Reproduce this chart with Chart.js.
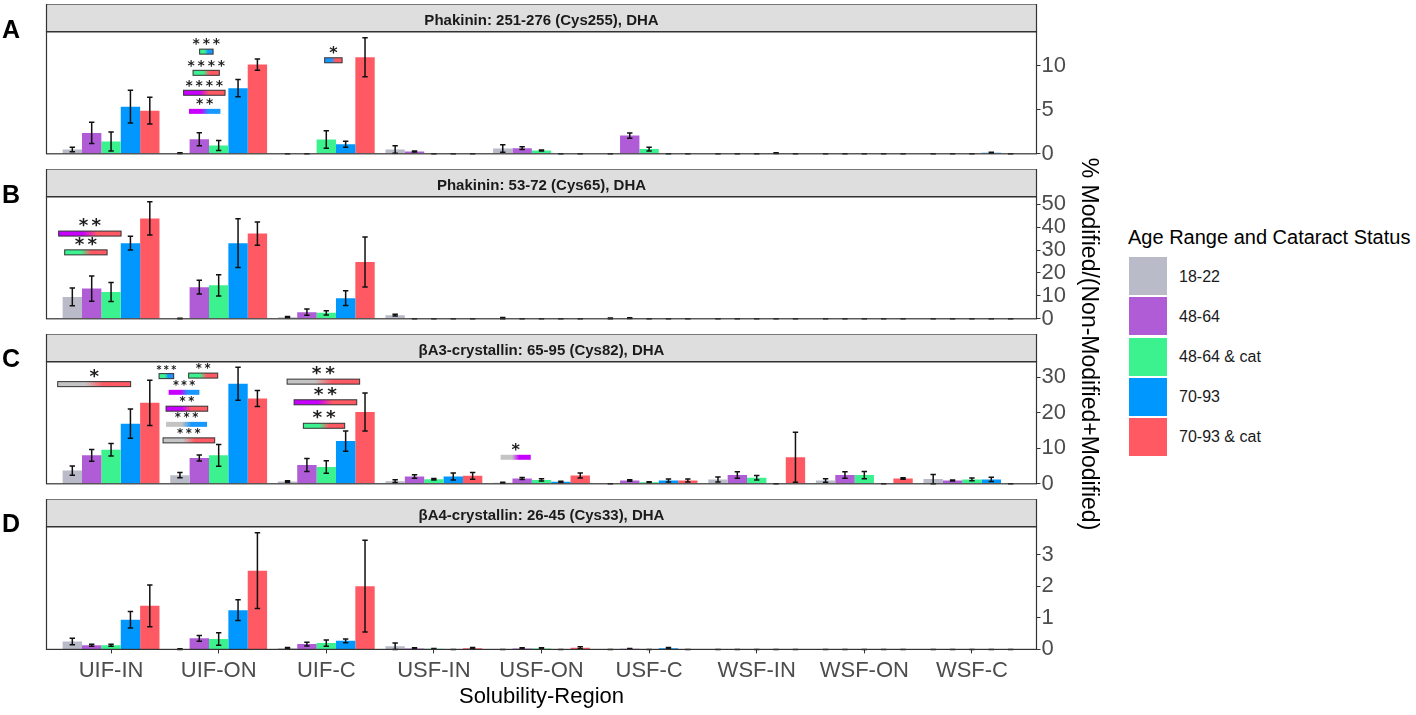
<!DOCTYPE html>
<html>
<head>
<meta charset="utf-8">
<script src="https://cdn.jsdelivr.net/npm/chart.js@4.4.1/dist/chart.umd.min.js"></script>
<style>
  body { margin: 0; background: #fff; width: 1416px; height: 715px; overflow: hidden; position: relative;
         font-family: "Liberation Sans", Arial, Helvetica, sans-serif; }
  canvas { position: absolute; left: 0; }
  .letter { position: absolute; left: 0; width: 22px; text-align: center; font-weight: bold; font-size: 25px; line-height: 25px; color: #000; }
  #ytitle { position: absolute; left: 880px; top: 331px; width: 420px; height: 26px; line-height: 26px; font-size: 23px;
            text-align: center; color: #000; transform: rotate(90deg); white-space: nowrap; }
  #legend-title { position: absolute; left: 1128px; top: 227px; font-size: 20px; line-height: 20px; color: #000; white-space: nowrap; }
  .sw { position: absolute; left: 1129px; width: 38px; height: 38px; }
  .lab { position: absolute; left: 1179px; font-size: 16px; line-height: 16px; color: #1a1a1a; white-space: nowrap; }
</style>
</head>
<body>
<canvas id="pA" width="1080" height="164" style="top:4px"></canvas>
<canvas id="pB" width="1080" height="164" style="top:169px"></canvas>
<canvas id="pC" width="1080" height="164" style="top:334px"></canvas>
<canvas id="pD" width="1080" height="216" style="top:499px"></canvas>
<div class="letter" style="top:17px">A</div>
<div class="letter" style="top:182px">B</div>
<div class="letter" style="top:346px">C</div>
<div class="letter" style="top:511px">D</div>
<div id="ytitle">% Modified/(Non-Modified+Modified)</div>
<div id="legend-title">Age Range and Cataract Status</div>
<div id="legend"></div>
<script>
// categories and groups
const categories = ['UIF-IN', 'UIF-ON', 'UIF-C', 'USF-IN', 'USF-ON', 'USF-C', 'WSF-IN', 'WSF-ON', 'WSF-C']
const groups = ['18-22', '48-64', '48-64 & cat', '70-93', '70-93 & cat']
const panelTitles = ['Phakinin: 251-276 (Cys255), DHA', 'Phakinin: 53-72 (Cys65), DHA',
  'βA3-crystallin: 65-95 (Cys82), DHA', 'βA4-crystallin: 26-45 (Cys33), DHA']

// A - phakinin Cys255 (rows = groups, cols = categories)
const phak255Mean = [
  [0.49, 0.08, 0, 0.49, 0.6, 0, 0, 0, 0],
  [2.37, 1.65, 0, 0.26, 0.64, 2.07, 0, 0, 0],
  [1.39, 0.94, 1.62, 0, 0.38, 0.53, 0, 0, 0],
  [5.34, 7.44, 1.09, 0, 0, 0, 0.08, 0, 0.12],
  [4.89, 10.11, 10.94, 0, 0, 0, 0, 0, 0]
]
const phak255Err = [
  [0.26, 0.04, 0, 0.43, 0.43, 0, 0, 0, 0],
  [1.2, 0.75, 0, 0.07, 0.15, 0.3, 0, 0, 0],
  [1.07, 0.56, 0.98, 0, 0.06, 0.2, 0, 0, 0],
  [1.86, 0.98, 0.34, 0, 0, 0, 0.04, 0, 0.05],
  [1.52, 0.64, 2.22, 0, 0, 0, 0, 0, 0]
]
// B - phakinin Cys65
const phak65Mean = [
  [9.57, 0.1, 0.72, 1.6, 0.3, 0.2, 0, 0, 0],
  [13.2, 13.8, 2.9, 0, 0, 0.3, 0, 0, 0],
  [11.7, 14.6, 2.6, 0, 0, 0, 0, 0, 0],
  [33.0, 33.0, 9.0, 0, 0, 0, 0, 0, 0],
  [43.8, 37.2, 24.8, 0, 0, 0, 0, 0, 0]
]
const phak65Err = [
  [3.85, 0.1, 0.3, 0.35, 0.3, 0.2, 0, 0, 0],
  [5.5, 3.0, 1.4, 0, 0, 0.2, 0, 0, 0],
  [4.1, 4.6, 0.9, 0, 0, 0, 0, 0, 0],
  [3.0, 10.65, 3.2, 0, 0, 0, 0, 0, 0],
  [7.25, 5.1, 10.9, 0, 0, 0, 0, 0, 0]
]
// C - bA3-crystallin Cys82
const cryA3Mean = [
  [3.71, 2.41, 0.65, 0.74, 0.3, 0, 1.23, 0.94, 1.32],
  [8.0, 7.24, 5.3, 2.04, 1.5, 0.94, 2.45, 2.45, 0.94],
  [9.56, 8.0, 4.74, 1.3, 1.1, 0.47, 1.7, 2.45, 1.23],
  [16.9, 28.1, 12.0, 2.04, 0.55, 0.94, 0, 0, 1.23],
  [22.75, 23.95, 20.15, 2.23, 2.35, 0.94, 7.45, 1.5, 0]
]
const cryA3Err = [
  [1.3, 0.74, 0.2, 0.4, 0.15, 0, 0.7, 0.5, 1.3],
  [1.67, 0.84, 1.81, 0.5, 0.3, 0.2, 0.9, 0.9, 0.15],
  [1.76, 3.06, 1.76, 0.2, 0.3, 0.1, 0.6, 1.0, 0.4],
  [4.13, 4.64, 2.83, 1.0, 0.15, 0.4, 0, 0, 0.6],
  [6.36, 2.27, 5.34, 0.95, 0.7, 0.4, 7.0, 0.2, 0]
]
// D - bA4-crystallin Cys33
const cryA4Mean = [
  [0.25, 0.01, 0.04, 0.1, 0, 0, 0, 0, 0],
  [0.13, 0.35, 0.17, 0.03, 0.03, 0.02, 0, 0, 0],
  [0.13, 0.33, 0.2, 0.02, 0.03, 0, 0, 0, 0],
  [0.94, 1.24, 0.27, 0, 0, 0.04, 0, 0, 0],
  [1.38, 2.49, 2.0, 0.04, 0.05, 0, 0, 0, 0]
]
const cryA4Err = [
  [0.1, 0.01, 0.02, 0.1, 0, 0, 0, 0, 0],
  [0.03, 0.09, 0.06, 0.02, 0.02, 0.01, 0, 0, 0],
  [0.03, 0.2, 0.1, 0.01, 0.02, 0, 0, 0, 0],
  [0.26, 0.33, 0.06, 0, 0, 0.02, 0, 0, 0],
  [0.66, 1.2, 1.45, 0.02, 0.03, 0, 0, 0, 0]
]

// y axis ranges and tick labels
const yMax = [13.84, 53.3, 34.3, 3.88]
const yTicksA = [0, 5, 10]
const yTicksB = [0, 10, 20, 30, 40, 50]
const yTicksC = [0, 10, 20, 30]
const yTicksD = [0, 1, 2, 3]

// significance comparisons: category, groups compared, stars, bar level (data units)
const sigA = [
  {cat: 1, from: 2, to: 3, stars: '***', y: 11.58, x0: -0.177, x1: -0.052, size: 7.5, outline: true},
  {cat: 1, from: 2, to: 4, stars: '****', y: 9.18, x0: -0.238, x1: 0.006, size: 7.5, outline: true},
  {cat: 1, from: 1, to: 4, stars: '****', y: 6.92, x0: -0.326, x1: 0.059, size: 7.5, outline: true},
  {cat: 1, from: 1, to: 3, stars: '**', y: 4.81, x0: -0.276, x1: 0.016, size: 7.5, outline: false},
  {cat: 2, from: 3, to: 4, stars: '*', y: 10.6, x0: -0.015, x1: 0.147, size: 8.5, outline: true}
]
const sigB = [
  {cat: 0, from: 1, to: 4, stars: '**', y: 37.2, x0: -0.487, x1: 0.093, size: 9.5, outline: true},
  {cat: 0, from: 2, to: 4, stars: '**', y: 29.0, x0: -0.431, x1: -0.037, size: 9.5, outline: true}
]
const sigC = [
  {cat: 0, from: 0, to: 4, stars: '*', y: 28.0, x0: -0.496, x1: 0.182, size: 9.5, outline: true},
  {cat: 1, from: 2, to: 3, stars: '***', y: 30.25, x0: -0.554, x1: -0.418, size: 5.5, outline: true},
  {cat: 1, from: 2, to: 4, stars: '**', y: 30.4, x0: -0.279, x1: -0.009, size: 6.5, outline: true},
  {cat: 1, from: 1, to: 3, stars: '***', y: 25.7, x0: -0.465, x1: -0.179, size: 6, outline: false},
  {cat: 1, from: 1, to: 4, stars: '**', y: 21.1, x0: -0.489, x1: -0.102, size: 6.5, outline: true},
  {cat: 1, from: 0, to: 3, stars: '***', y: 16.7, x0: -0.489, x1: -0.108, size: 6.5, outline: false},
  {cat: 1, from: 0, to: 4, stars: '***', y: 12.2, x0: -0.517, x1: -0.037, size: 6.5, outline: true},
  {cat: 2, from: 0, to: 4, stars: '**', y: 28.7, x0: -0.364, x1: 0.31, size: 10, outline: true},
  {cat: 2, from: 1, to: 4, stars: '**', y: 22.9, x0: -0.299, x1: 0.283, size: 10, outline: true},
  {cat: 2, from: 2, to: 4, stars: '**', y: 16.3, x0: -0.213, x1: 0.171, size: 10, outline: true},
  {cat: 4, from: 0, to: 1, stars: '*', y: 7.45, x0: -0.38, x1: -0.1, size: 8.5, outline: false}
]

const barColors = ['#b9bbc9', '#af5cd6', '#3bf28f', '#0097ff', '#ff5a64']
const sigColors = ['#c4c4c4', '#c800ff', '#3cf290', '#1898ff', '#ff5a64']
const FONT = '"Liberation Sans", Arial, Helvetica, sans-serif'
const STRIP_H = 27.7
const CAP = 2.7

Chart.defaults.font.family = FONT

// legend (html)
var legend = document.getElementById('legend')
groups.forEach((g, k) => {
  var sw = document.createElement('div')
  sw.className = 'sw'
  sw.style.top = (257.3 + k * 40.1) + 'px'
  sw.style.background = barColors[k]
  legend.appendChild(sw)
  var lab = document.createElement('div')
  lab.className = 'lab'
  lab.style.top = (257.3 + k * 40.1 + 19 - 7.8) + 'px'
  lab.textContent = g
  legend.appendChild(lab)
})

function drawStars(ctx, stars, cx, cy, size) {
  ctx.save()
  var f = size / 0.45
  ctx.font = 'bold ' + f + 'px "DejaVu Sans"'
  var m = ctx.measureText('*')
  var w = m.actualBoundingBoxLeft + m.actualBoundingBoxRight
  f = f * size / w
  ctx.font = 'bold ' + f + 'px "DejaVu Sans"'
  m = ctx.measureText('*')
  var baseY = cy + (m.actualBoundingBoxAscent - m.actualBoundingBoxDescent) / 2
  var step = size * 1.35
  ctx.fillStyle = '#1e1e1e'
  ctx.textAlign = 'center'
  ctx.textBaseline = 'alphabetic'
  for (var k = 0; k < stars.length; k++) {
    ctx.fillText(stars[k], cx + (k - (stars.length - 1) / 2) * step, baseY)
  }
  ctx.restore()
}

function makePanel(id, title, means, errs, max, ticks, sig, showX) {
  const frame = {
    id: 'frame',
    beforeDraw(chart) {
      const {ctx, chartArea: a} = chart
      ctx.save()
      ctx.fillStyle = '#dedede'
      ctx.fillRect(a.left, a.top - STRIP_H, a.right - a.left, STRIP_H)
      ctx.strokeStyle = '#333'
      ctx.lineWidth = 1.2
      ctx.strokeRect(a.left, a.top - STRIP_H, a.right - a.left, STRIP_H)
      ctx.fillStyle = '#1a1a1a'
      ctx.font = 'bold 15px ' + FONT
      ctx.textAlign = 'center'
      ctx.textBaseline = 'alphabetic'
      ctx.fillText(title, (a.left + a.right) / 2, a.top - STRIP_H / 2 + 7.4)
      ctx.restore()
    },
    afterDatasetsDraw(chart) {
      const ctx = chart.ctx, ys = chart.scales.y, xs = chart.scales.x
      ctx.save()
      // error bars
      ctx.strokeStyle = '#111'
      ctx.lineWidth = 1.5
      chart.data.datasets.forEach((ds, d) => {
        chart.getDatasetMeta(d).data.forEach((bar, i) => {
          const m = ds.data[i].y, e = ds.errors[i]
          const top = ys.getPixelForValue(m + e)
          const bot = ys.getPixelForValue(Math.max(0, m - e))
          ctx.beginPath()
          ctx.moveTo(bar.x, top); ctx.lineTo(bar.x, bot)
          ctx.moveTo(bar.x - CAP, top); ctx.lineTo(bar.x + CAP, top)
          ctx.moveTo(bar.x - CAP, bot); ctx.lineTo(bar.x + CAP, bot)
          ctx.stroke()
        })
      })
      // significance bars
      sig.forEach(mk => {
        const x0 = xs.getPixelForValue(mk.cat + mk.x0)
        const x1 = xs.getPixelForValue(mk.cat + mk.x1)
        const yc = ys.getPixelForValue(mk.y)
        const g = ctx.createLinearGradient(x0, 0, x1, 0)
        g.addColorStop(0, sigColors[mk.from])
        g.addColorStop(0.38, sigColors[mk.from])
        g.addColorStop(0.62, sigColors[mk.to])
        g.addColorStop(1, sigColors[mk.to])
        ctx.fillStyle = g
        ctx.fillRect(x0, yc - 2.5, x1 - x0, 5)
        if (mk.outline) {
          ctx.strokeStyle = '#333'
          ctx.lineWidth = 1
          ctx.strokeRect(x0, yc - 2.5, x1 - x0, 5)
        }
        drawStars(ctx, mk.stars, (x0 + x1) / 2, yc - (mk.size * 0.5 + 6), mk.size)
      })
      ctx.restore()
    },
    afterDraw(chart) {
      const {ctx, chartArea: a} = chart
      ctx.save()
      ctx.strokeStyle = '#333'
      ctx.lineWidth = 1.2
      ctx.strokeRect(a.left, a.top, a.right - a.left, a.bottom - a.top)
      ctx.restore()
    }
  }

  return new Chart(document.getElementById(id), {
    type: 'bar',
    data: {
      datasets: groups.map((g, k) => ({
        label: g,
        data: means[k].map((v, i) => ({x: i, y: v})),
        errors: errs[k],
        backgroundColor: barColors[k],
        borderWidth: 0,
        categoryPercentage: 0.9,
        barPercentage: 1.0
      }))
    },
    options: {
      responsive: false,
      animation: false,
      layout: {padding: {left: 46.5, right: 0, top: STRIP_H, bottom: showX ? 0 : 14}},
      plugins: {legend: {display: false}, tooltip: {enabled: false}},
      scales: {
        x: {
          type: 'linear', min: -0.6, max: 8.6, display: showX, offset: false,
          afterBuildTicks: s => { s.ticks = categories.map((c, i) => ({value: i})) },
          afterFit: s => { if (showX) s.height = 216 - STRIP_H - 122.7 },
          grid: {drawOnChartArea: false, drawTicks: true, tickLength: 4, color: '#333', offset: false},
          border: {display: false},
          ticks: {callback: v => categories[v], font: {size: 22}, color: '#4d4d4d', padding: 4,
                  autoSkip: false, maxRotation: 0},
          title: {display: true, text: 'Solubility-Region', font: {size: 22}, color: '#000',
                  padding: {top: 0, bottom: 5}}
        },
        y: {
          position: 'right', min: 0, max: max,
          afterBuildTicks: s => { s.ticks = ticks.map(v => ({value: v})) },
          afterFit: s => { s.width = 43.5 },
          grid: {drawOnChartArea: false, drawTicks: true, tickLength: 4, color: '#333'},
          border: {display: false},
          ticks: {font: {size: 22}, color: '#4d4d4d', padding: 1, autoSkip: false}
        }
      }
    },
    plugins: [frame]
  })
}

makePanel('pA', panelTitles[0], phak255Mean, phak255Err, yMax[0], yTicksA, sigA, false)
makePanel('pB', panelTitles[1], phak65Mean, phak65Err, yMax[1], yTicksB, sigB, false)
makePanel('pC', panelTitles[2], cryA3Mean, cryA3Err, yMax[2], yTicksC, sigC, false)
makePanel('pD', panelTitles[3], cryA4Mean, cryA4Err, yMax[3], yTicksD, [], true)
</script>
</body>
</html>
